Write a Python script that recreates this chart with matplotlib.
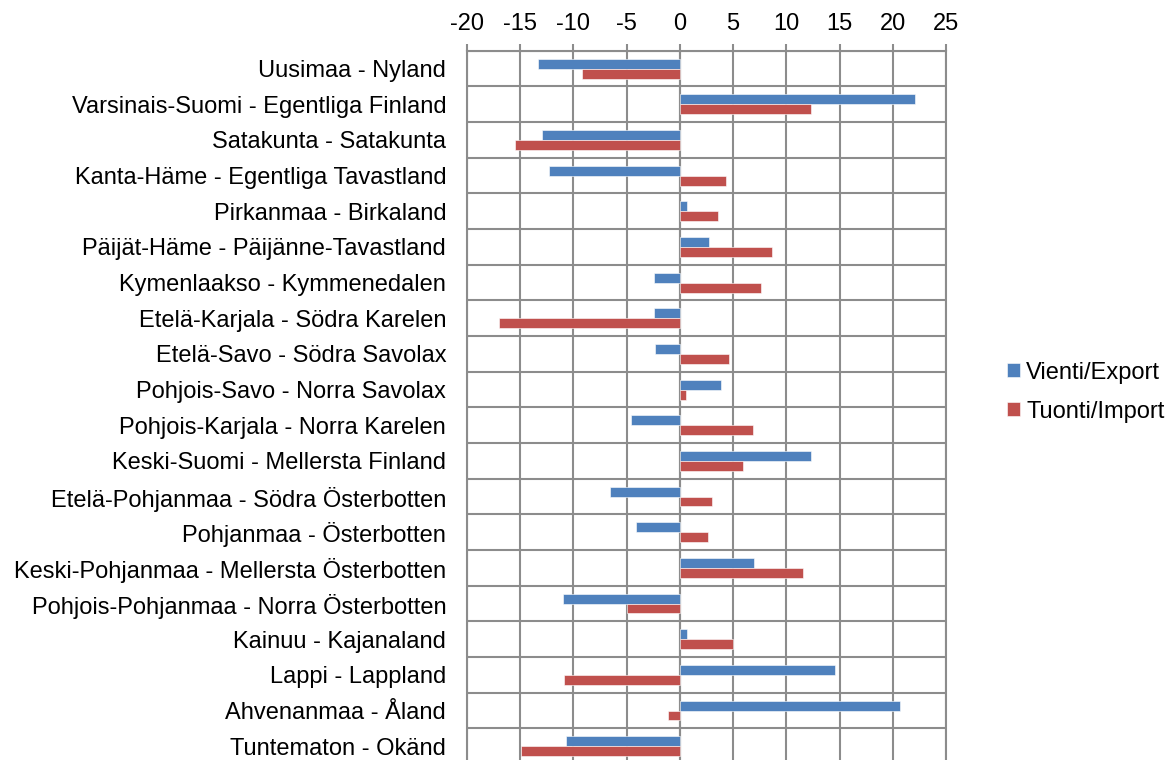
import numpy as np
import matplotlib.pyplot as plt

plt.rcParams["font.family"] = ["Liberation Sans", "DejaVu Sans"]

regions = [
    "Uusimaa - Nyland",
    "Varsinais-Suomi - Egentliga Finland",
    "Satakunta - Satakunta",
    "Kanta-Häme - Egentliga Tavastland",
    "Pirkanmaa - Birkaland",
    "Päijät-Häme - Päijänne-Tavastland",
    "Kymenlaakso - Kymmenedalen",
    "Etelä-Karjala - Södra Karelen",
    "Etelä-Savo - Södra Savolax",
    "Pohjois-Savo - Norra Savolax",
    "Pohjois-Karjala - Norra Karelen",
    "Keski-Suomi - Mellersta Finland",
    "Etelä-Pohjanmaa - Södra Österbotten",
    "Pohjanmaa - Österbotten",
    "Keski-Pohjanmaa - Mellersta Österbotten",
    "Pohjois-Pohjanmaa - Norra Österbotten",
    "Kainuu - Kajanaland",
    "Lappi - Lappland",
    "Ahvenanmaa - Åland",
    "Tuntematon - Okänd",
]
export_vals = [-13.3, 22.1, -13.0, -12.3, 0.7, 2.7, -2.4, -2.4, -2.3, 3.9,
               -4.6, 12.3, -6.6, -4.1, 7.0, -11.0, 0.7, 14.6, 20.7, -10.7]
import_vals = [-9.2, 12.3, -15.5, 4.3, 3.6, 8.7, 7.6, -17.0, 4.6, 0.6,
               6.9, 5.9, 3.0, 2.6, 11.6, -5.0, 5.0, -10.9, -1.1, -14.9]
xticks = [-20, -15, -10, -5, 0, 5, 10, 15, 20, 25]

blue = "#4F81BD"
red = "#C0504D"
grid = "#8C8C8C"
fs = 17

fig = plt.figure(figsize=(11.73, 7.6), dpi=100)
ax = fig.add_axes([467 / 1173, 1 - 764 / 760, (946 - 467) / 1173, (764 - 50.7) / 760])

y = np.arange(len(regions))
h = 0.28
ax.barh(y - h / 2, export_vals, height=h, color=blue, edgecolor="white",
        linewidth=0.4, label="Vienti/Export", zorder=3)
ax.barh(y + h / 2, import_vals, height=h, color=red, edgecolor="white",
        linewidth=0.4, label="Tuonti/Import", zorder=3)

ax.set_xlim(-20, 25)
ax.set_ylim(len(regions) - 0.5, -0.5)
ax.set_xticks(xticks)
ax.set_xticklabels([str(t) for t in xticks])
ax.xaxis.tick_top()
ax.tick_params(axis="x", length=5, width=1.5, color=grid, labelsize=fs, pad=6)

ax.set_yticks(y)
ax.set_yticklabels(regions)
ax.tick_params(axis="y", length=0, labelsize=fs, pad=15)
ax.set_yticks(np.arange(len(regions) + 1) - 0.5, minor=True)
ax.tick_params(axis="y", which="minor", length=0)

ax.grid(True, which="major", axis="x", color=grid, linewidth=1.5, zorder=0)
ax.grid(True, which="minor", axis="y", color=grid, linewidth=1.5, zorder=0)
ax.axvline(0, color=grid, linewidth=1.5, zorder=2)
for s in ax.spines.values():
    s.set_color(grid)
    s.set_linewidth(1.5)

ax.legend(loc="center left", bbox_to_anchor=(986 / 1173, 1 - 392 / 760),
          bbox_transform=fig.transFigure, frameon=False, fontsize=fs,
          handlelength=0.55, handleheight=0.55, handletextpad=0.25, labelspacing=0.72)

fig.savefig("out.png", dpi=100)
